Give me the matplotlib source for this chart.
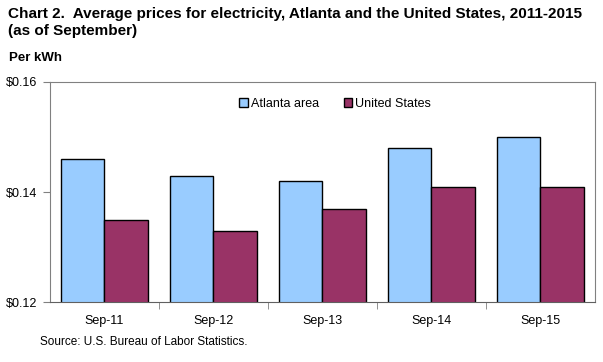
import numpy as np
import matplotlib
matplotlib.use("Agg")
import matplotlib.pyplot as plt
import matplotlib.ticker as mticker

# ── Données ──────────────────────────────────────────────────────────────────
categories = ["Sep-11", "Sep-12", "Sep-13", "Sep-14", "Sep-15"]
atlanta    = [0.146, 0.143, 0.142, 0.148, 0.150]
us         = [0.135, 0.133, 0.137, 0.141, 0.141]
y_ticks    = [0.12, 0.14, 0.16]

COL_ATL = "#99CCFF"
COL_US  = "#993366"

plt.rcParams["font.family"] = ["Liberation Sans", "DejaVu Sans"]

fig = plt.figure(figsize=(6.03, 3.62), dpi=100)
ax = fig.add_axes([0.0829, 0.1657, 0.9038, 0.6078])

x = np.arange(len(categories))
width = 0.395
ax.bar(x - width / 2, atlanta, width, color=COL_ATL, edgecolor="black",
       linewidth=1.0, label="Atlanta area")
ax.bar(x + width / 2, us, width, color=COL_US, edgecolor="black",
       linewidth=1.0, label="United States")

ax.set_xlim(-0.5, len(categories) - 0.5)
ax.set_ylim(0.12, 0.16)
ax.set_yticks(y_ticks)
ax.yaxis.set_major_formatter(mticker.FuncFormatter(lambda v, p: f"${v:.2f}"))
ax.set_xticks(x)
ax.set_xticklabels(categories, fontsize=9)
ax.set_xticks(np.arange(0.5, len(categories) - 0.5, 1), minor=True)
ax.tick_params(axis="x", which="major", length=0, pad=9)
ax.tick_params(axis="x", which="minor", length=5, color="#808080")
ax.tick_params(axis="y", length=5, color="#808080", labelsize=9, pad=4)

for side in ["top", "right", "left"]:
    ax.spines[side].set_color("#808080")
ax.spines["bottom"].set_color("#606060")

ax.legend(loc="upper center", bbox_to_anchor=(0.523, 0.98), ncol=2, frameon=False,
          fontsize=9, handlelength=0.7, handleheight=0.7, handletextpad=0.2,
          columnspacing=2.0)

fig.text(0.013, 0.98, "Chart 2.  Average prices for electricity, Atlanta and the United States, 2011-2015\n(as of September)",
         fontsize=11, fontweight="bold", va="top", ha="left", linespacing=1.25)
fig.text(0.015, 0.84, "Per kWh", fontsize=9.5, fontweight="bold", va="center", ha="left")
fig.text(0.066, 0.055, "Source: U.S. Bureau of Labor Statistics.", fontsize=8.5,
         va="center", ha="left")

fig.savefig("out.png", dpi=100)
